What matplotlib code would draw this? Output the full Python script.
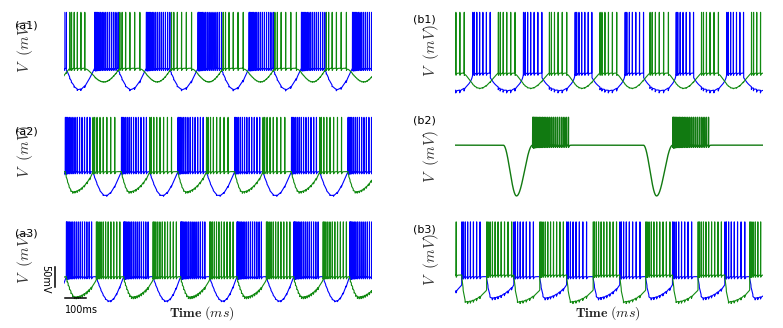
import numpy as np
import matplotlib
matplotlib.use("Agg")
import matplotlib.pyplot as plt
from matplotlib.lines import Line2D

plt.rcParams["mathtext.fontset"] = "cm"

W, H = 783, 328
T_END = 1460  # ms shown in every panel

# burst onset / offset times (ms), incl. one burst outside the window
a1_blue_on = [-100, 145, 390, 635, 877, 1125, 1367]
a1_blue_off = [10, 256, 501, 746, 991, 1236, 1478]
a1_green_on = [-218, 27, 264, 509, 754, 999, 1243, 1488]
a1_green_off = [-147, 98, 359, 604, 849, 1101, 1338, 1583]

a2_blue_on = [-262, 6, 272, 540, 809, 1078, 1346]
a2_blue_off = [-146, 122, 390, 659, 927, 1196, 1457]
a2_green_on = [-131, 137, 406, 675, 943, 1212, 1480]
a2_green_off = [-28, 240, 509, 777, 1046, 1315, 1583]

a3_blue_on = [-255, 11, 283, 553, 820, 1089, 1354]
a3_blue_off = [-140, 130, 398, 667, 935, 1204, 1469]
a3_green_on = [-116, 153, 422, 690, 959, 1228, 1497]
a3_green_off = [-5, 264, 532, 801, 1070, 1338, 1607]

b1_blue_on = [-160, 84, 324, 569, 806, 1048, 1288, 1530]
b1_blue_off = [-78, 166, 411, 648, 893, 1130, 1367, 1612]
b1_green_on = [-36, 205, 447, 687, 924, 1168, 1405]
b1_green_off = [43, 284, 529, 766, 1011, 1248, 1490]

b2_on = [-300, 368, 1032]
b2_off = [-131, 537, 1201]
b2_dip_len = 139

b3_blue_on = [-217, 32, 279, 529, 781, 1031, 1279, 1528]
b3_blue_off = [-131, 118, 371, 623, 876, 1121, 1373, 1620]
b3_green_on = [-100, 150, 402, 655, 904, 1152, 1397, 1650]
b3_green_off = [5, 268, 513, 765, 1018, 1262, 1510, 1760]

# spikes per burst
spikes_blue = {"a1": 15, "a2": 13, "a3": 15, "b1": 7, "b2": 22, "b3": 8}
spikes_green = {"a1": 6, "a2": 8, "a3": 11, "b1": 6, "b2": 22, "b3": 10}

# membrane levels (mV): level during bursts, depth of the trough between bursts
base_blue = {"a1": -74, "a2": -71, "a3": -72, "b1": -83, "b2": -22, "b3": -72}
base_green = {"a1": -74, "a2": -71, "a3": -72, "b1": -83, "b2": -22, "b3": -69}
depth_blue = {"a1": 39, "a2": 44, "a3": 45, "b1": 32, "b2": 94, "b3": 39}
depth_green = {"a1": 25, "a2": 37, "a3": 37, "b1": 28, "b2": 94, "b3": 49}
PEAK = 29.5


def spike_times(on, off, n, warp=1.35):
    out = []
    for a, b in zip(on, off):
        out += list(a + (b - a) * (np.arange(n) / (n - 1)) ** warp)
    return np.array(out)


def trace(t, on, off, spk, start, base, depth, m, qd, qu, e, other, rip, tau=3.0, ahp=4.0):
    v = np.full(t.shape, float(base))
    for i in range(len(on) - 1):
        t0, t1 = start[i], on[i + 1]
        i0, i1 = np.searchsorted(t, [t0, t1])
        u = (t[i0:i1] - t0) / (t1 - t0)
        down = np.sin(np.pi / 2 * np.clip(u / m, 0, 1)) ** qd
        up = e + (1 - e) * np.cos(np.pi / 2 * np.clip((u - m) / (1 - m), 0, 1)) ** qu
        v[i0:i1] = base - depth * np.where(u < m, down, up)
    for ts in other:
        i0, i1 = np.searchsorted(t, [ts, ts + 5 * tau])
        v[i0:i1] -= rip * np.exp(-(t[i0:i1] - ts) / tau)
    for ts in spk:
        i0, i1, i2 = np.searchsorted(t, [ts, ts + 1.0, ts + 16.0])
        v[i0:i1] = PEAK
        v[i1:i2] -= ahp * np.exp(-(t[i1:i2] - ts - 1.0) / 3.0)
    return v


def dip_start(on, off, other_on, mode, dip_len=None):
    s = []
    for i in range(len(on) - 1):
        if mode == "fixed":
            s.append(on[i + 1] - dip_len)
            continue
        s0 = off[i]
        if mode == "other":
            c = [x for x in other_on if off[i] < x < on[i + 1]]
            if c:
                s0 = c[0]
        s.append(s0)
    return s


t = np.arange(-320, 1780, 0.1)

# name, blue on/off, green on/off, dip mode, dip shape (m, qd, qu, e, ripple) blue / green
panels = [
    ("a1", a1_blue_on, a1_blue_off, a1_green_on, a1_green_off, "own",
     (0.45, 1.0, 1.0, 0.0, 3.0), (0.55, 1.5, 1.0, 0.0, 1.0)),
    ("a2", a2_blue_on, a2_blue_off, a2_green_on, a2_green_off, "other",
     (0.44, 1.0, 1.0, 0.0, 2.0), (0.28, 1.0, 0.8, 0.0, 3.0)),
    ("a3", a3_blue_on, a3_blue_off, a3_green_on, a3_green_off, "other",
     (0.48, 1.0, 1.0, 0.0, 2.0), (0.3, 1.0, 0.8, 0.15, 4.0)),
    ("b1", b1_blue_on, b1_blue_off, b1_green_on, b1_green_off, "own",
     (0.55, 0.5, 0.5, 0.0, 5.0), (0.46, 1.2, 1.2, 0.0, 1.0)),
    ("b2", b2_on, b2_off, b2_on, b2_off, "fixed",
     (0.45, 2.0, 2.0, 0.0, 0.0), (0.45, 2.0, 2.0, 0.0, 0.0)),
    ("b3", b3_blue_on, b3_blue_off, b3_green_on, b3_green_off, "other",
     (0.18, 1.0, 0.8, 0.38, 4.0), (0.17, 1.0, 0.8, 0.56, 4.0)),
]

# axes boxes in pixels: left, top
left_x, right_x, ax_w = 64, 455, 308
row_top = [11, 116, 220.5]
ax_h = 86.4
YLIM = (-128, 32)

fig = plt.figure(figsize=(W / 100, H / 100), dpi=100)

for k, (name, bon, boff, gon, goff, mode, bshape, gshape) in enumerate(panels):
    col = 0 if name[0] == "a" else 1
    row = int(name[1]) - 1
    x0 = left_x if col == 0 else right_x
    y0 = row_top[row]
    ax = fig.add_axes([x0 / W, 1 - (y0 + ax_h) / H, ax_w / W, ax_h / H])

    bspk = spike_times(bon, boff, spikes_blue[name])
    gspk = spike_times(gon, goff, spikes_green[name])
    bstart = dip_start(bon, boff, gon, mode, b2_dip_len)
    gstart = dip_start(gon, goff, bon, mode, b2_dip_len)
    vb = trace(t, bon, boff, bspk, bstart, base_blue[name], depth_blue[name],
               *bshape[:4], gspk if name != "b2" else [], bshape[4])
    vg = trace(t, gon, goff, gspk, gstart, base_green[name], depth_green[name],
               *gshape[:4], bspk if name != "b2" else [], gshape[4])
    # in (b2) both cells move together, green sits on top of blue
    if name != "b2":
        ax.plot(t, vb, color="#0000ff", lw=0.8)
        ax.plot(t, vg, color="#118a11", lw=0.8)
    else:
        ax.plot(t, vg, color="#117a11", lw=1.0)
    ax.set_xlim(0, T_END)
    ax.set_ylim(*YLIM)
    ax.axis("off")


def ftext(x, y, s, **kw):
    fig.text(x / W, 1 - y / H, s, ha="center", va="center", **kw)


# panel tags and y labels
tags = [("(a1)", 26, 26), ("(a2)", 26, 131), ("(a3)", 26, 234),
        ("(b1)", 424, 19), ("(b2)", 424, 120.5), ("(b3)", 424, 229)]
for s, x, y in tags:
    ftext(x, y, s, fontsize=8)
vlab = [(25, 47), (25, 152), (25, 258), (431, 51), (431, 157), (431, 260)]
for x, y in vlab:
    ftext(x, y, r"$V\ \ (mV)$", fontsize=11, rotation=90, color="#333333")

ftext(202, 313, r"$\mathbf{Time}\ (ms)$", fontsize=10, color="#222222")
ftext(608, 313, r"$\mathbf{Time}\ (ms)$", fontsize=10, color="#222222")

# scale bars
fig.add_artist(Line2D([55 / W, 55 / W], [1 - 266.5 / H, 1 - 287 / H], color="k", lw=1.1))
fig.add_artist(Line2D([65 / W, 86 / W], [1 - 297.5 / H, 1 - 297.5 / H], color="k", lw=1.1))
ftext(45, 279, "50mV", fontsize=7, rotation=-90)
ftext(81, 310, "100ms", fontsize=7)

fig.savefig("out.png", dpi=100)
